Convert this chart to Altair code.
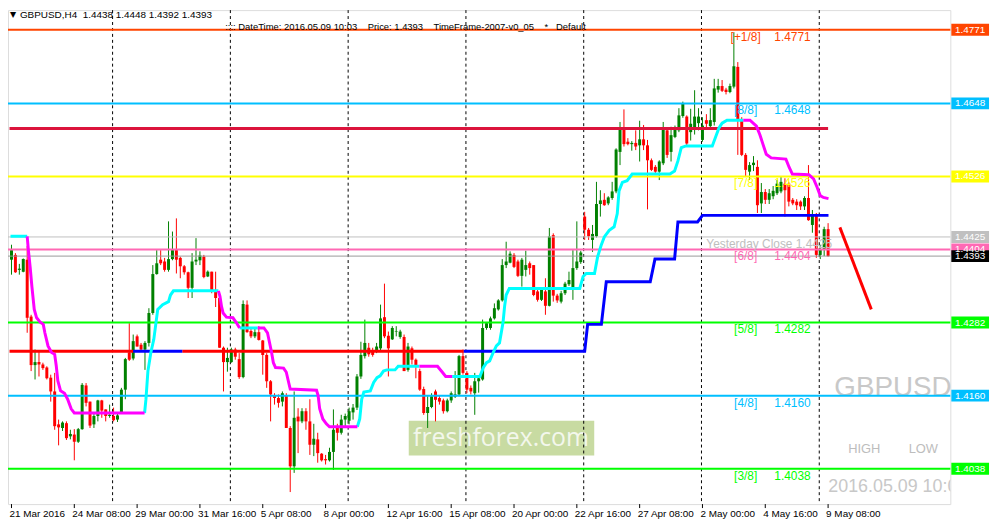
import altair as alt
import pandas as pd

# ---------------- data ----------------
opens = [1.4387,1.4395,1.4370,1.4367,1.4387,1.4292,1.4211,1.4216,1.4212,1.4207,
         1.4190,1.4167,1.4112,1.4106,1.4114,1.4092,1.4095,1.4083,1.4104,1.4177,
         1.4150,1.4112,1.4126,1.4152,1.4137,1.4126,1.4126,1.4120,1.4131,1.4170,
         1.4232,1.4222,1.4259,1.4245,1.4237,1.4248,1.4298,1.4363,1.4387,1.4384,
         1.4370,1.4388,1.4403,1.4390,1.4376,1.4366,1.4340,1.4384,1.4386,1.4392,
         1.4359,1.4367,1.4334,1.4323,1.4240,1.4216,1.4216,1.4237,1.4221,1.4191,
         1.4312,1.4268,1.4259,1.4266,1.4252,1.4228,1.4184,1.4161,1.4156,1.4150,
         1.4161,1.4106,1.4042,1.4125,1.4117,1.4134,1.4117,1.4078,1.4087,1.4063,
         1.4054,1.4052,1.4066,1.4106,1.4098,1.4120,1.4118,1.4132,1.4140,1.4192,
         1.4226,1.4240,1.4236,1.4236,1.4239,1.4291,1.4260,1.4254,1.4267,1.4258,
         1.4258,1.4203,1.4239,1.4220,1.4201,1.4171,1.4131,1.4141,1.4167,1.4156,
         1.4152,1.4134,1.4152,1.4158,1.4162,1.4226,1.4198,1.4173,1.4164,1.4184,
         1.4187,1.4273,1.4273,1.4289,1.4304,1.4319,1.4378,1.4382,1.4395,1.4384,
         1.4360,1.4370,1.4381,1.4378,1.4334,1.4320,1.4334,1.4310,1.4428,1.4327,
         1.4317,1.4331,1.4346,1.4341,1.4373,1.4383,1.4459,1.4437,1.4420,1.4426,
         1.4480,1.4487,1.4481,1.4490,1.4501,1.4567,1.4604,1.4584,1.4580,1.4582,
         1.4578,1.4588,1.4578,1.4553,1.4542,1.4534,1.4548,1.4603,1.4567,1.4592,
         1.4603,1.4627,1.4626,1.4600,1.4605,1.4615,1.4587,1.4620,1.4610,1.4617,
         1.4671,1.4677,1.4671,1.4667,1.4676,1.4709,1.4620,1.4562,1.4534,1.4545,
         1.4542,1.4481,1.4500,1.4487,1.4493,1.4498,1.4501,1.4514,1.4514,1.4487,
         1.4484,1.4484,1.4476,1.4490,1.4445,1.4461,1.4395,1.4405,1.4438]
highs = [1.4412,1.4398,1.4380,1.4389,1.4410,1.4295,1.4237,1.4234,1.4215,1.4209,
         1.4195,1.4198,1.4120,1.4117,1.4117,1.4103,1.4104,1.4106,1.4181,1.4181,
         1.4150,1.4131,1.4153,1.4153,1.4137,1.4145,1.4140,1.4131,1.4173,1.4223,
         1.4281,1.4262,1.4262,1.4248,1.4251,1.4306,1.4378,1.4403,1.4403,1.4390,
         1.4451,1.4434,1.4456,1.4392,1.4378,1.4367,1.4398,1.4423,1.4401,1.4395,
         1.4369,1.4367,1.4367,1.4325,1.4242,1.4240,1.4240,1.4240,1.4231,1.4319,
         1.4319,1.4272,1.4272,1.4276,1.4253,1.4231,1.4186,1.4164,1.4162,1.4167,
         1.4164,1.4109,1.4167,1.4139,1.4139,1.4139,1.4154,1.4113,1.4098,1.4064,
         1.4061,1.4073,1.4137,1.4113,1.4128,1.4130,1.4140,1.4146,1.4196,1.4250,
         1.4287,1.4248,1.4240,1.4248,1.4312,1.4347,1.4267,1.4276,1.4276,1.4270,
         1.4262,1.4248,1.4242,1.4222,1.4205,1.4175,1.4159,1.4164,1.4170,1.4160,
         1.4155,1.4155,1.4167,1.4201,1.4228,1.4237,1.4201,1.4177,1.4198,1.4192,
         1.4287,1.4283,1.4292,1.4314,1.4321,1.4388,1.4417,1.4401,1.4398,1.4387,
         1.4390,1.4402,1.4384,1.4378,1.4337,1.4340,1.4356,1.4440,1.4431,1.4330,
         1.4335,1.4350,1.4367,1.4403,1.4451,1.4402,1.4467,1.4440,1.4445,1.4517,
         1.4503,1.4498,1.4493,1.4517,1.4573,1.4617,1.4638,1.4590,1.4585,1.4603,
         1.4619,1.4612,1.4587,1.4556,1.4545,1.4553,1.4617,1.4606,1.4609,1.4611,
         1.4640,1.4651,1.4628,1.4639,1.4670,1.4640,1.4625,1.4630,1.4640,1.4689,
         1.4689,1.4687,1.4674,1.4681,1.4767,1.4717,1.4625,1.4565,1.4550,1.4560,
         1.4553,1.4515,1.4505,1.4505,1.4510,1.4520,1.4525,1.4523,1.4517,1.4490,
         1.4488,1.4486,1.4493,1.4545,1.4470,1.4465,1.4412,1.4442,1.4448]
lows = [1.4362,1.4365,1.4362,1.4366,1.4265,1.4201,1.4187,1.4192,1.4203,1.4187,
        1.4150,1.4103,1.4077,1.4101,1.4086,1.4087,1.4052,1.4081,1.4103,1.4142,
        1.4106,1.4106,1.4117,1.4123,1.4117,1.4123,1.4117,1.4116,1.4130,1.4154,
        1.4218,1.4219,1.4242,1.4236,1.4203,1.4242,1.4295,1.4362,1.4378,1.4367,
        1.4367,1.4386,1.4364,1.4356,1.4362,1.4323,1.4323,1.4378,1.4378,1.4356,
        1.4358,1.4331,1.4308,1.4240,1.4167,1.4200,1.4215,1.4220,1.4188,1.4189,
        1.4265,1.4256,1.4256,1.4252,1.4195,1.4173,1.4117,1.4145,1.4140,1.4142,
        1.4106,1.3999,1.4031,1.4064,1.4114,1.4103,1.4061,1.4059,1.4048,1.4050,
        1.4045,1.4050,1.4036,1.4085,1.4095,1.4108,1.4112,1.4120,1.4136,1.4188,
        1.4222,1.4225,1.4225,1.4231,1.4236,1.4256,1.4192,1.4253,1.4259,1.4255,
        1.4201,1.4200,1.4212,1.4189,1.4168,1.4128,1.4106,1.4139,1.4117,1.4145,
        1.4130,1.4132,1.4148,1.4156,1.4159,1.4195,1.4164,1.4162,1.4128,1.4165,
        1.4185,1.4270,1.4270,1.4287,1.4302,1.4317,1.4373,1.4381,1.4373,1.4358,
        1.4342,1.4359,1.4362,1.4326,1.4317,1.4318,1.4295,1.4309,1.4317,1.4315,
        1.4314,1.4328,1.4343,1.4320,1.4370,1.4380,1.4420,1.4420,1.4400,1.4424,
        1.4459,1.4477,1.4478,1.4487,1.4498,1.4545,1.4576,1.4578,1.4569,1.4570,
        1.4551,1.4570,1.4471,1.4535,1.4530,1.4520,1.4545,1.4557,1.4551,1.4590,
        1.4600,1.4624,1.4578,1.4586,1.4596,1.4603,1.4584,1.4605,1.4606,1.4611,
        1.4666,1.4667,1.4663,1.4665,1.4673,1.4562,1.4560,1.4526,1.4520,1.4535,
        1.4465,1.4465,1.4480,1.4480,1.4488,1.4495,1.4498,1.4459,1.4476,1.4478,
        1.4470,1.4470,1.4470,1.4452,1.4432,1.4390,1.4388,1.4393,1.4392]
closes = [1.4403,1.4366,1.4372,1.4388,1.4290,1.4211,1.4216,1.4212,1.4206,1.4189,
          1.4167,1.4109,1.4107,1.4115,1.4089,1.4096,1.4083,1.4104,1.4178,1.4148,
          1.4110,1.4126,1.4152,1.4135,1.4126,1.4128,1.4119,1.4127,1.4170,1.4221,
          1.4220,1.4251,1.4242,1.4237,1.4248,1.4298,1.4363,1.4381,1.4381,1.4370,
          1.4388,1.4403,1.4387,1.4376,1.4366,1.4340,1.4384,1.4387,1.4394,1.4358,
          1.4367,1.4334,1.4323,1.4240,1.4216,1.4223,1.4237,1.4225,1.4191,1.4313,
          1.4266,1.4259,1.4266,1.4253,1.4228,1.4184,1.4162,1.4156,1.4148,1.4164,
          1.4106,1.4042,1.4123,1.4117,1.4134,1.4117,1.4078,1.4088,1.4064,1.4052,
          1.4052,1.4066,1.4103,1.4098,1.4120,1.4126,1.4134,1.4140,1.4192,1.4228,
          1.4248,1.4229,1.4228,1.4242,1.4289,1.4259,1.4239,1.4273,1.4268,1.4267,
          1.4201,1.4242,1.4220,1.4209,1.4170,1.4131,1.4141,1.4159,1.4153,1.4150,
          1.4134,1.4152,1.4164,1.4162,1.4226,1.4198,1.4170,1.4167,1.4184,1.4189,
          1.4273,1.4281,1.4289,1.4306,1.4319,1.4378,1.4384,1.4397,1.4375,1.4360,
          1.4387,1.4378,1.4373,1.4328,1.4320,1.4337,1.4310,1.4426,1.4327,1.4319,
          1.4331,1.4347,1.4353,1.4373,1.4384,1.4399,1.4437,1.4426,1.4430,1.4480,
          1.4486,1.4478,1.4491,1.4501,1.4571,1.4604,1.4580,1.4580,1.4582,1.4576,
          1.4588,1.4578,1.4553,1.4537,1.4534,1.4551,1.4604,1.4562,1.4595,1.4604,
          1.4628,1.4648,1.4581,1.4614,1.4626,1.4626,1.4611,1.4614,1.4620,1.4673,
          1.4677,1.4669,1.4667,1.4677,1.4710,1.4620,1.4562,1.4537,1.4545,1.4549,
          1.4478,1.4500,1.4487,1.4498,1.4502,1.4514,1.4517,1.4503,1.4484,1.4481,
          1.4478,1.4476,1.4490,1.4453,1.4461,1.4395,1.4405,1.4438,1.4393]

# Murrey levels
level_names = ["[+1/8]", "[8/8]", "[7/8]", "[6/8]", "[5/8]", "[4/8]", "[3/8]"]
level_values = [1.4771, 1.4648, 1.4526, 1.4404, 1.4282, 1.4160, 1.4038]
level_colors = ["#FF4500", "#00BFFF", "#FFFF00", "#FF69B4", "#00FF00", "#00BFFF", "#00FF00"]
yesterday_close = 1.4425
bid_price = 1.4393
crimson_level = 1.4606

# trailing indicator segments (bar index, price)
cyan_segments = [
    [(-0.25, 1.4426), (4.0, 1.4426)],
    [(33.9, 1.4131), (34.25, 1.4154), (34.75, 1.4201), (35.5, 1.4232), (36.25, 1.4254), (37.25, 1.4304),
     (38.5, 1.4312), (40.0, 1.4317), (40.5, 1.4328), (41.25, 1.4335), (52.7, 1.4335)],
    [(58.1, 1.4273), (62.7, 1.4273)],
    [(88.1, 1.4108), (88.7, 1.4121), (89.2, 1.4154), (89.75, 1.4166), (91.4, 1.4168), (92.25, 1.4182),
     (93.1, 1.4190), (93.9, 1.4193), (94.75, 1.4201), (95.6, 1.4203), (97.7, 1.4203), (98.5, 1.4209),
     (103.9, 1.4209)],
    [(112.25, 1.4192), (119.3, 1.4192), (120.2, 1.4207), (121.0, 1.4215), (121.8, 1.4218), (122.7, 1.4232),
     (123.5, 1.4243), (124.3, 1.4248), (125.2, 1.4282), (125.6, 1.4309), (126.0, 1.4328), (126.8, 1.4339),
     (144.75, 1.4339), (145.6, 1.4359), (146.4, 1.4364), (148.5, 1.4364), (149.3, 1.4392), (150.2, 1.4411),
     (151.0, 1.4425), (152.25, 1.4436), (153.5, 1.4442), (154.3, 1.4464), (154.75, 1.4502), (155.6, 1.4516),
     (156.8, 1.4519), (158.1, 1.4530), (167.7, 1.4530), (168.9, 1.4535), (169.75, 1.4552), (170.6, 1.4574),
     (171.8, 1.4577), (178.5, 1.4577), (179.3, 1.4591), (180.2, 1.4607), (181.0, 1.4615), (182.25, 1.4620),
     (186.4, 1.4620)],
]
magenta_segments = [
    [(4.0, 1.4426), (4.3, 1.4403), (4.75, 1.4375), (5.2, 1.4342), (5.8, 1.4304), (6.4, 1.4290), (7.25, 1.4283),
     (8.1, 1.4279), (8.5, 1.4265), (9.3, 1.4243), (10.2, 1.4232), (11.0, 1.4229), (11.4, 1.4210),
     (11.8, 1.4185), (12.5, 1.4168), (13.5, 1.4164), (14.3, 1.4154), (15.2, 1.4138), (16.0, 1.4131),
     (33.9, 1.4131)],
    [(52.7, 1.4335), (53.1, 1.4326), (53.5, 1.4309), (53.9, 1.4298), (54.75, 1.4291), (56.4, 1.4290),
     (57.25, 1.4282), (58.1, 1.4273)],
    [(62.7, 1.4273), (64.3, 1.4273), (65.2, 1.4265), (65.75, 1.4248), (66.25, 1.4232), (66.7, 1.4215),
     (67.25, 1.4207), (69.3, 1.4206), (70.0, 1.4199), (70.6, 1.4182), (71.0, 1.4171), (77.7, 1.4169),
     (78.1, 1.4160), (78.5, 1.4138), (79.3, 1.4121), (80.2, 1.4113), (81.0, 1.4108), (88.1, 1.4108)],
    [(103.9, 1.4209), (108.5, 1.4209), (109.75, 1.4199), (110.6, 1.4192), (112.25, 1.4192)],
    [(186.4, 1.4620), (188.1, 1.4620), (189.75, 1.4610), (190.6, 1.4596), (191.4, 1.4580), (192.25, 1.4563),
     (193.5, 1.4557), (197.25, 1.4555), (198.1, 1.4541), (198.9, 1.4530), (203.1, 1.4529), (204.3, 1.4522),
     (205.2, 1.4508), (206.0, 1.4494), (206.8, 1.4491), (208.1, 1.4489)],
]
red_stair_segments = [
    [(-0.5, 1.4234), (31.0, 1.4234)],
    [(43.5, 1.4234), (115.2, 1.4234)],
]
blue_stair_segments = [
    [(31.0, 1.4234), (43.5, 1.4234)],
    [(115.2, 1.4234), (146.0, 1.4234), (146.75, 1.4279), (150.25, 1.4279), (151.5, 1.4350), (162.7, 1.4350),
     (163.9, 1.4388), (168.9, 1.4388), (169.75, 1.4450), (174.75, 1.4450), (176.0, 1.4461), (208.1, 1.4461)],
]
trend_i = [211, 219]
trend_p = [1.4441, 1.4304]

week_starts = [26, 56, 86, 116, 146, 176, 206]
xlabel_bars = [0, 16, 32, 48, 64, 80, 96, 112, 128, 144, 160, 176, 192, 208]
xlabel_text = ["21 Mar 2016", "24 Mar 08:00", "29 Mar 00:00", "31 Mar 16:00", "5 Apr 08:00",
               "8 Apr 00:00", "12 Apr 16:00", "15 Apr 08:00", "20 Apr 00:00", "22 Apr 16:00",
               "27 Apr 08:00", "2 May 00:00", "4 May 16:00", "9 May 08:00"]
yaxis_values = [1.4755, 1.4700, 1.4645, 1.4590, 1.4535, 1.4480, 1.4425, 1.4370, 1.4315,
                1.4260, 1.4205, 1.4150, 1.4095, 1.4040, 1.3985]
price_box_values = [1.4771, 1.4648, 1.4526, 1.4425, 1.4404, 1.4393, 1.4282, 1.4160, 1.4038]
price_box_colors = ["#FF4500", "#00BFFF", "#FFFF00", "#C0C0C0", "#FF69B4", "#000000", "#00FF00", "#00BFFF", "#00FF00"]

# ---------------- frames ----------------
W, H = 950, 498
Y_DOM = [1.39789, 1.48038]
X_DOM = [0.375, 237.875]
xs = alt.Scale(domain=X_DOM, nice=False, zero=False)
ys = alt.Scale(domain=Y_DOM, nice=False, zero=False)
ppp = (Y_DOM[1] - Y_DOM[0]) / H  # price per pixel
NB = "\u00a0"

n = len(closes)
candles = pd.DataFrame({
    "i": list(range(n)), "O": opens, "C": closes,
    "H": [max(h, o, c) for h, o, c in zip(highs, opens, closes)],
    "L": [min(l, o, c) for l, o, c in zip(lows, opens, closes)],
})
candles["dir"] = ["up" if c >= o else "down" for o, c in zip(opens, closes)]
dir_color = alt.Color("dir:N", scale=alt.Scale(domain=["up", "down"], range=["#008000", "#FF0000"]), legend=None)


def seg_frame(segments, color):
    rows = []
    for k, seg in enumerate(segments):
        for j, (i, p) in enumerate(seg):
            rows.append({"i": i, "p": p, "seg": f"{color}{k}", "col": color, "o": j})
    return rows


trail = pd.DataFrame(seg_frame(cyan_segments, "#00FFFF") + seg_frame(magenta_segments, "#FF00FF"))
stairs = pd.DataFrame(seg_frame(red_stair_segments, "#FF0000") + seg_frame(blue_stair_segments, "#0000FF"))
trend = pd.DataFrame({"i": trend_i, "p": trend_p, "o": [0, 1]})

levels = pd.DataFrame({"name": level_names, "p": level_values, "col": level_colors,
                       "txt": [f"{v:.4f}" for v in level_values]})
hlines = pd.DataFrame({
    "p": level_values + [yesterday_close, bid_price],
    "col": level_colors + ["#C0C0C0", "#9A9A9A"],
    "w": [2] * len(level_values) + [1, 1],
})
weeks = pd.DataFrame({"i": [w - 0.25 for w in week_starts]})
xlabels = pd.DataFrame({"i": xlabel_bars, "t": xlabel_text})
boxes = pd.DataFrame({"p": price_box_values, "col": price_box_colors,
                      "txt": [f"{v:.4f}" for v in price_box_values]})
boxes["top"] = boxes["p"] + 6 * ppp
boxes["bot"] = boxes["p"] - 6 * ppp

FONT = "Liberation Sans"
X = lambda f="i": alt.X(f"{f}:Q", scale=xs, axis=None)
Y = lambda f="p": alt.Y(f"{f}:Q", scale=ys, axis=None)

# watermark box + text
ff_box = alt.Chart(pd.DataFrame({"k": [0]})).mark_rect(color="#C8DBA2").encode(
    x=alt.value(404), x2=alt.value(591), y=alt.value(414), y2=alt.value(449))
ff_text = alt.Chart(pd.DataFrame({"t": ["freshforex.com"]})).mark_text(
    font="Open Sans", fontSize=25, color="#F3F7EC", align="center", baseline="middle").encode(
    x=alt.value(497), y=alt.value(431), text="t:N")
wm_sym = alt.Chart(pd.DataFrame({"t": ["GBPUSD"]})).mark_text(
    font=FONT, fontSize=28, color="#C8C8C8", align="left", baseline="middle").encode(
    x=alt.value(833), y=alt.value(381), text="t:N")
wm_hl = alt.Chart(pd.DataFrame({"t": ["HIGH", "LOW"], "x": [847, 908]})).mark_text(
    font=FONT, fontSize=13, color="#BDBDBD", align="left", baseline="middle").encode(
    x=alt.X("x:Q", scale=None, axis=None), y=alt.value(443), text="t:N")
wm_time = alt.Chart(pd.DataFrame({"t": ["2016.05.09 10:03"]})).mark_text(
    font=FONT, fontSize=18, color="#C8C8C8", align="left", baseline="middle", clip=True).encode(
    x=alt.value(827), y=alt.value(481), text="t:N")

# week separators
sep = alt.Chart(weeks).mark_rule(color="black", strokeDash=[3, 3], strokeWidth=1).encode(x=X())

# candles
wicks = alt.Chart(candles).mark_rule(strokeWidth=1).encode(
    x=X(),
    y=alt.Y("L:Q", scale=ys, axis=alt.Axis(
        orient="right", values=yaxis_values, format=".4f", title=None, grid=False, domain=False,
        tickSize=3, tickColor="black", labelFont=FONT, labelFontSize=10, labelColor="black",
        labelPadding=2)),
    y2="H:Q", color=dir_color)
bodies = alt.Chart(candles).mark_bar(size=3).encode(x=X(), y=Y("O"), y2="C:Q", color=dir_color)

# horizontal levels
hl = alt.Chart(hlines).mark_rule().encode(
    y=Y(), color=alt.Color("col:N", scale=None), strokeWidth=alt.StrokeWidth("w:Q", scale=None))
crimson = alt.Chart(pd.DataFrame({"a": [-0.5], "b": [208.0], "p": [crimson_level]})).mark_rule(
    color="#DC143C", strokeWidth=3).encode(x=X("a"), x2="b:Q", y=Y())

stair_line = alt.Chart(stairs).mark_line(strokeWidth=3, clip=True).encode(
    x=X(), y=Y(), detail="seg:N", order="o:Q", color=alt.Color("col:N", scale=None))
trail_line = alt.Chart(trail).mark_line(strokeWidth=3, clip=True).encode(
    x=X(), y=Y(), detail="seg:N", order="o:Q", color=alt.Color("col:N", scale=None))
trend_line = alt.Chart(trend).mark_line(strokeWidth=3, color="#FF0000").encode(
    x=X(), y=Y(), order="o:Q")

# level labels
lab_name = alt.Chart(levels).mark_text(font=FONT, fontSize=12, align="center", baseline="middle", dy=7).encode(
    x=alt.X("pos:Q", scale=xs, axis=None), y=Y(), text="name:N", color=alt.Color("col:N", scale=None)
).transform_calculate(pos="187")
lab_val = alt.Chart(levels).mark_text(font=FONT, fontSize=12, align="left", baseline="middle", dy=7).encode(
    x=alt.X("pos:Q", scale=xs, axis=None), y=Y(), text="txt:N", color=alt.Color("col:N", scale=None)
).transform_calculate(pos="194.3")
ycl = alt.Chart(pd.DataFrame({"p": [yesterday_close], "t": [f"Yesterday Close {yesterday_close:.4f}"],
                              "pos": [193.0]})).mark_text(
    font=FONT, fontSize=12, align="center", baseline="middle", dy=7, color="#BEBEBE").encode(
    x=X("pos"), y=Y(), text="t:N")

# right price boxes
pbox = alt.Chart(boxes).mark_rect().encode(
    x=alt.value(951), x2=alt.value(989), y=Y("top"), y2="bot:Q", color=alt.Color("col:N", scale=None))
ptxt = alt.Chart(boxes).mark_text(font=FONT, fontSize=10, color="white", align="center", baseline="middle").encode(
    x=alt.value(970), y=Y(), text="txt:N")

# x axis labels
xticks = alt.Chart(xlabels).mark_rule(color="black").encode(x=X(), y=alt.value(498), y2=alt.value(502))
xtext = alt.Chart(xlabels).mark_text(font=FONT, fontSize=10, align="left", baseline="middle", dx=-2,
                                     color="black").encode(x=X(), y=alt.value(508), text="t:N")

# header texts
hdr1_txt = f"GBPUSD,H4{NB}{NB}{opens[-1]:.4f} {highs[-1]:.4f} {lows[-1]:.4f} {closes[-1]:.4f}"
hdr1 = alt.Chart(pd.DataFrame({"t": [hdr1_txt]})).mark_text(
    font=FONT, fontSize=10, align="left", baseline="middle", color="black").encode(
    x=alt.value(12), y=alt.value(5), text="t:N")
hdr_tri = alt.Chart(pd.DataFrame({"t": ["▼"]})).mark_text(font="DejaVu Sans", fontSize=8, align="left",
                                                          baseline="middle", color="black").encode(
    x=alt.value(2), y=alt.value(5), text="t:N")
sp4 = NB * 4
hdr2_txt = (f"::::{NB}DateTime:{NB}2016.05.09{NB}10:03{sp4}Price:{NB}1.4393{sp4}"
            f"TimeFrame-2007-v0_05{sp4}*{NB * 3}Default")
hdr2 = alt.Chart(pd.DataFrame({"t": [hdr2_txt]})).mark_text(
    font=FONT, fontSize=9.5, align="left", baseline="middle", color="black").encode(
    x=alt.value(219), y=alt.value(17), text="t:N")

chart = alt.layer(
    ff_box, ff_text, wm_sym, wm_hl, wm_time, sep, wicks, bodies, hl, crimson, stair_line, trail_line,
    trend_line, lab_name, lab_val, ycl, pbox, ptxt, xticks, xtext, hdr_tri, hdr1, hdr2
).properties(
    width=W, height=H,
    autosize=alt.AutoSizeParams(type="none"),
    padding={"left": 0, "top": 0, "right": 43, "bottom": 23},
).configure_view(stroke="black", strokeWidth=1).configure(background="white")

chart.save("out.html", embed_options={"renderer": "svg", "actions": False})
